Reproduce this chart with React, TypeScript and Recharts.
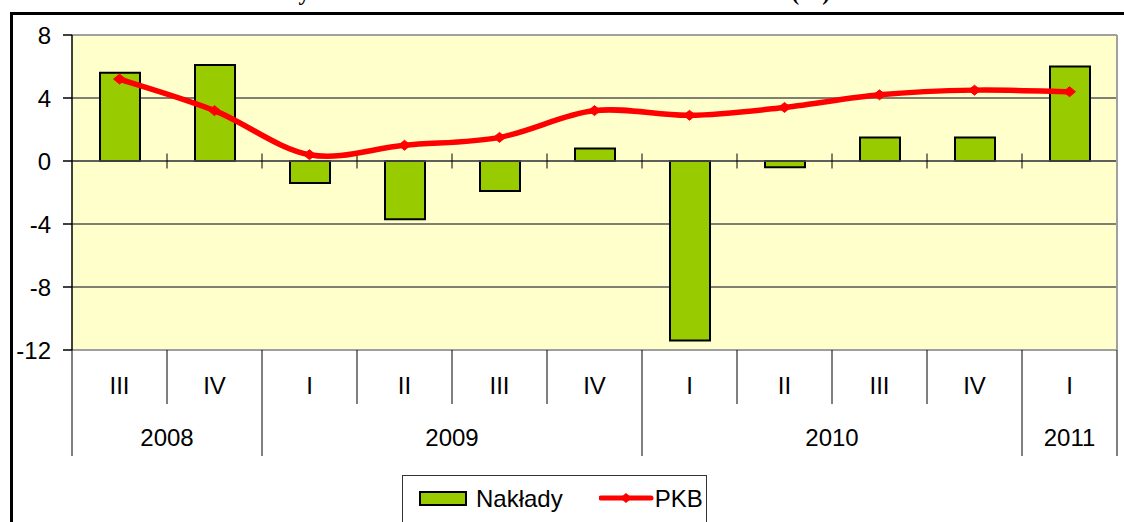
import React from 'react';
import {
  ComposedChart,
  Bar,
  Line,
  XAxis,
  YAxis,
  CartesianGrid,
  ReferenceLine,
  Legend,
} from 'recharts';

const quarters = ['III', 'IV', 'I', 'II', 'III', 'IV', 'I', 'II', 'III', 'IV', 'I'];
const years = ['2008', '2008', '2009', '2009', '2009', '2009', '2010', '2010', '2010', '2010', '2011'];
const naklady = [5.6, 6.1, -1.4, -3.7, -1.9, 0.8, -11.4, -0.4, 1.5, 1.5, 6.0];
const pkb = [5.2, 3.2, 0.4, 1.0, 1.5, 3.2, 2.9, 3.4, 4.2, 4.5, 4.4];
const yTicks = [-12, -8, -4, 0, 4, 8];
const seriesNames = { naklady: 'Nakłady', pkb: 'PKB' };
const titleText = 'Dynamika nakładów brutto na środki trwałe i PKB (%)';

const data = quarters.map((q, i) => ({
  cat: `${q} ${years[i]}`,
  q,
  year: years[i],
  naklady: naklady[i],
  pkb: pkb[i],
}));

const FONT = '"Liberation Sans", Arial, sans-serif';

// Excel-like smoothed line (Catmull-Rom through the points)
const excelSmooth = (context: any) => {
  let pts: number[][] = [];
  return {
    areaStart() {},
    areaEnd() {},
    lineStart() {
      pts = [];
    },
    point(x: number, y: number) {
      pts.push([+x, +y]);
    },
    lineEnd() {
      const n = pts.length;
      if (!n) return;
      context.moveTo(pts[0][0], pts[0][1]);
      for (let i = 0; i < n - 1; i++) {
        const p0 = pts[i - 1] || pts[i];
        const p1 = pts[i];
        const p2 = pts[i + 1];
        const p3 = pts[i + 2] || pts[i + 1];
        const c1x = p1[0] + (p2[0] - p0[0]) / 6;
        const c1y = p1[1] + (p2[1] - p0[1]) / 6;
        const c2x = p2[0] - (p3[0] - p1[0]) / 6;
        const c2y = p2[1] - (p3[1] - p1[1]) / 6;
        context.bezierCurveTo(c1x, c1y, c2x, c2y, p2[0], p2[1]);
      }
    },
  };
};

const Diamond = (props: any) => {
  const { cx, cy, index } = props;
  if (cx == null || cy == null) return <g key={`d-${index}`} />;
  return (
    <polygon
      key={`d-${index}`}
      points={`${cx - 6},${cy} ${cx},${cy - 5} ${cx + 6},${cy} ${cx},${cy + 5}`}
      fill="#FF0000"
      stroke="#FF0000"
    />
  );
};

const CategoryTick = (props: any) => {
  const { x, y, payload, index, width } = props;
  const n = data.length;
  const i = payload && payload.index != null ? payload.index : index;
  const band = payload && payload.offset ? payload.offset * 2 : width / n;
  const left = x - band / 2;
  const right = x + band / 2;
  const yearStart = i === 0 || years[i] !== years[i - 1];
  let count = 0;
  if (yearStart) {
    let j = i;
    while (j < n && years[j] === years[i]) {
      count++;
      j++;
    }
  }
  return (
    <g>
      <line x1={left} x2={left} y1={y} y2={y + (yearStart ? 106 : 54)} stroke="#000" strokeWidth={1} />
      {i === n - 1 && <line x1={right} x2={right} y1={y} y2={y + 106} stroke="#000" strokeWidth={1} />}
      <text x={x} y={y + 44} textAnchor="middle" fontSize={24} fontFamily={FONT} fill="#000">
        {quarters[i]}
      </text>
      {yearStart && (
        <text x={left + (count * band) / 2} y={y + 96} textAnchor="middle" fontSize={24} fontFamily={FONT} fill="#000">
          {years[i]}
        </text>
      )}
    </g>
  );
};

const ZeroAxis = (props: any) => {
  const { x1, y1, x2 } = props;
  if (x1 == null || y1 == null || x2 == null) return null;
  const n = data.length;
  const step = (x2 - x1) / n;
  const ticks = [];
  for (let k = 1; k <= n; k++) {
    const tx = x1 + k * step;
    ticks.push(<line key={k} x1={tx} x2={tx} y1={y1 - 7.5} y2={y1 + 7.5} stroke="#000" strokeWidth={1} />);
  }
  return (
    <g>
      <line x1={x1} x2={x2} y1={y1} y2={y1} stroke="#555" strokeWidth={1.5} />
      {ticks}
    </g>
  );
};

const LegendContent = (props: any) => {
  const payload = props.payload || [];
  return (
    <div
      style={{
        border: '1px solid #333',
        width: 305,
        height: 60,
        boxSizing: 'border-box',
        background: '#fff',
        display: 'flex',
        alignItems: 'flex-start',
        paddingTop: 8,
        paddingLeft: 16,
        fontFamily: FONT,
        fontSize: 24,
        color: '#000',
      }}
    >
      {payload.map((entry: any, k: number) => (
        <div key={k} style={{ display: 'flex', alignItems: 'center', marginRight: k === 0 ? 36 : 0, height: 30 }}>
          {entry.dataKey === 'naklady' ? (
            <svg width={57} height={30}>
              <rect x={1} y={8} width={46} height={13} fill="#99CC00" stroke="#000" strokeWidth={2} />
            </svg>
          ) : (
            <svg width={56} height={30}>
              <line x1={2} x2={52} y1={14} y2={14} stroke="#FF0000" strokeWidth={5} strokeLinecap="round" />
              <polygon points="21,14 27,9 33,14 27,19" fill="#FF0000" />
            </svg>
          )}
          <span style={{ lineHeight: '30px' }}>{entry.value}</span>
        </div>
      ))}
    </div>
  );
};

export default function App() {
  return (
    <div
      style={{
        position: 'fixed',
        left: 0,
        top: 0,
        width: 1124,
        height: 522,
        overflow: 'hidden',
        background: '#fff',
      }}
    >
      <svg width={1124} height={20} style={{ position: 'absolute', left: 0, top: 0, overflow: 'visible' }}>
        <text x={282} y={0} fontFamily='"Liberation Serif", "Times New Roman", serif' fontWeight="bold" fontSize={23} fill="#000">
          {titleText}
        </text>
      </svg>
      <div
        style={{
          position: 'absolute',
          left: 10,
          top: 12,
          width: 1300,
          height: 700,
          border: '3px solid #000',
          boxSizing: 'border-box',
        }}
      />
      <div style={{ position: 'absolute', left: 0, top: 0 }}>
        <ComposedChart
          width={1124}
          height={522}
          data={data}
          margin={{ top: 35, right: 0, bottom: 62, left: 12 }}
          barSize={40}
        >
          <CartesianGrid
            vertical={false}
            horizontalValues={[4, 0, -4, -8]}
            stroke="#555"
            strokeWidth={1.5}
            fill="#FFFFCC"
            fillOpacity={1}
          />
          <CartesianGrid vertical={false} horizontalValues={[8, -12]} stroke="#A0A0A0" strokeWidth={2} />
          <XAxis
            dataKey="cat"
            height={110}
            axisLine={false}
            tickLine={false}
            tickSize={0}
            tickMargin={0}
            interval={0}
            tick={<CategoryTick />}
          />
          <YAxis
            width={60}
            domain={[-12, 8]}
            ticks={yTicks}
            interval={0}
            allowDataOverflow
            axisLine={{ stroke: '#000', strokeWidth: 1.5 }}
            tickLine={{ stroke: '#000', strokeWidth: 1.5 }}
            tickSize={9}
            tickMargin={12}
            tick={{ fill: '#000', fontSize: 24, fontFamily: FONT }}
          />
          <YAxis
            yAxisId="right"
            orientation="right"
            width={7}
            domain={[-12, 8]}
            tick={false}
            tickLine={false}
            axisLine={{ stroke: '#A0A0A0', strokeWidth: 2 }}
          />
          <Bar
            dataKey="naklady"
            name={seriesNames.naklady}
            fill="#99CC00"
            stroke="#000"
            strokeWidth={2}
            isAnimationActive={false}
          />
          <ReferenceLine y={0} shape={ZeroAxis} />
          <Line
            dataKey="pkb"
            name={seriesNames.pkb}
            type={excelSmooth as any}
            stroke="#FF0000"
            strokeWidth={5.5}
            dot={Diamond}
            activeDot={false}
            isAnimationActive={false}
          />
          <Legend
            layout="horizontal"
            verticalAlign="middle"
            align="center"
            content={<LegendContent />}
            wrapperStyle={{ position: 'absolute', left: 402, top: 475, width: 305, height: 60 }}
          />
        </ComposedChart>
      </div>
    </div>
  );
}
